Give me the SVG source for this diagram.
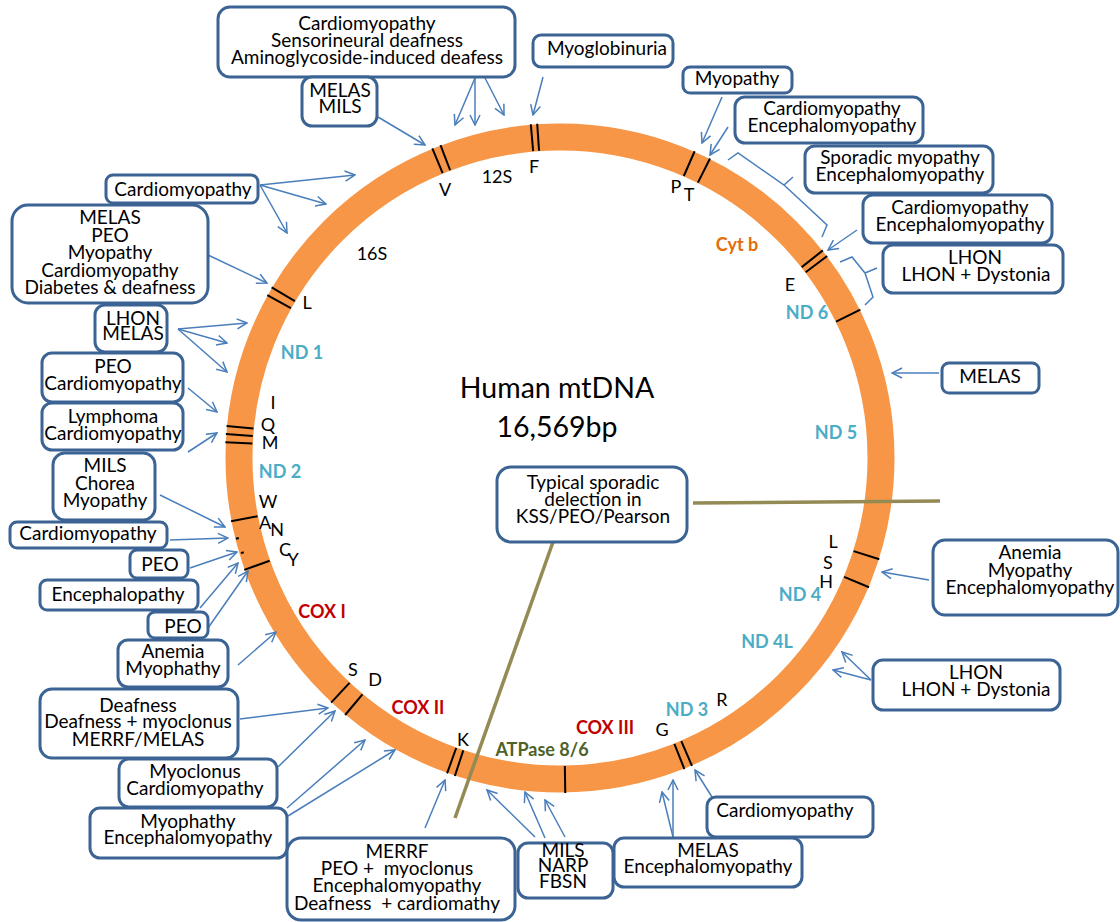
<svg xmlns="http://www.w3.org/2000/svg" width="1120" height="922" viewBox="0 0 1120 922">
<defs>
<style>
.box{fill:#fff;stroke:#3B6394;stroke-width:3}
.t{font-family:Lato,"Liberation Sans",sans-serif;font-size:19px;fill:#000;text-anchor:middle}
.s{font-family:Lato,"Liberation Sans",sans-serif;font-size:18px;fill:#000;text-anchor:middle}
.g{font-family:Lato,"Liberation Sans",sans-serif;font-size:18px;font-weight:bold;text-anchor:middle}
.nd{fill:#4BACC6}.cox{fill:#C00000}.cyt{fill:#E46C0A}.atp{fill:#4F6228}
.big{font-family:Lato,"Liberation Sans",sans-serif;font-size:28.5px;fill:#000;text-anchor:middle}
.a{fill:none;stroke:#4A7EBB;stroke-width:1.5;marker-end:url(#ah)}
.br{fill:none;stroke:#4A7EBB;stroke-width:1.5}
.tk{stroke:#000;stroke-width:2}
.del{stroke:#948A54;stroke-width:3.5;fill:none}
</style>
<marker id="ah" viewBox="0 0 12 12" markerWidth="12" markerHeight="12" refX="11" refY="6" orient="auto" markerUnits="userSpaceOnUse">
<path d="M1,1 L11,6 L1,11" fill="none" stroke="#4A7EBB" stroke-width="1.5"/>
</marker>
</defs>
<rect width="1120" height="922" fill="#fff"/>

<g id="ring">
<circle cx="560" cy="458" r="321" fill="none" stroke="#F79646" stroke-width="27"/>
<g id="ticks">
<line class="tk" x1="560" y1="123" x2="560" y2="150" transform="rotate(-22.4 560 458)"/>
<line class="tk" x1="560" y1="123" x2="560" y2="150" transform="rotate(-20.9 560 458)"/>
<line class="tk" x1="560" y1="123" x2="560" y2="150" transform="rotate(-5 560 458)"/>
<line class="tk" x1="560" y1="123" x2="560" y2="150" transform="rotate(-3.9 560 458)"/>
<line class="tk" x1="560" y1="123" x2="560" y2="150" transform="rotate(23.7 560 458)"/>
<line class="tk" x1="560" y1="123" x2="560" y2="150" transform="rotate(26.6 560 458)"/>
<line class="tk" x1="560" y1="123" x2="560" y2="150" transform="rotate(51.7 560 458)"/>
<line class="tk" x1="560" y1="123" x2="560" y2="150" transform="rotate(52.9 560 458)"/>
<line class="tk" x1="560" y1="123" x2="560" y2="150" transform="rotate(63.7 560 458)"/>
<line class="tk" x1="560" y1="123" x2="560" y2="150" transform="rotate(107.6 560 458)"/>
<line class="tk" x1="560" y1="123" x2="560" y2="150" transform="rotate(112.7 560 458)"/>
<line class="tk" x1="560" y1="123" x2="560" y2="150" transform="rotate(156.8 560 458)"/>
<line class="tk" x1="560" y1="123" x2="560" y2="150" transform="rotate(158.2 560 458)"/>
<line class="tk" x1="560" y1="123" x2="560" y2="150" transform="rotate(179.1 560 458)"/>
<line class="tk" x1="560" y1="123" x2="560" y2="150" transform="rotate(198.3 560 458)"/>
<line class="tk" x1="560" y1="123" x2="560" y2="150" transform="rotate(199.7 560 458)"/>
<line class="tk" x1="560" y1="123" x2="560" y2="150" transform="rotate(219.9 560 458)"/>
<line class="tk" x1="560" y1="123" x2="560" y2="150" transform="rotate(223.1 560 458)"/>
<line class="tk" x1="560" y1="123" x2="560" y2="150" transform="rotate(250.5 560 458)"/>
<line class="tk" x1="560" y1="123" x2="560" y2="150" transform="rotate(259.1 560 458)"/>
<line class="tk" x1="560" y1="123" x2="560" y2="150" transform="rotate(272.7 560 458)"/>
<line class="tk" x1="560" y1="123" x2="560" y2="150" transform="rotate(274.1 560 458)"/>
<line class="tk" x1="560" y1="123" x2="560" y2="150" transform="rotate(275.5 560 458)"/>
<line class="tk" x1="560" y1="123" x2="560" y2="150" transform="rotate(299.1 560 458)"/>
<line class="tk" x1="560" y1="123" x2="560" y2="150" transform="rotate(300.6 560 458)"/>
<line class="tk" x1="560" y1="124" x2="560" y2="127" transform="rotate(256 560 458)"/>
<line class="tk" x1="560" y1="125" x2="560" y2="128" transform="rotate(253.4 560 458)"/>
</g>
<g id="ring-labels">
<text class="s" x="445" y="196">V</text>
<text class="s" x="497" y="183">12S</text>
<text class="s" x="534" y="173">F</text>
<text class="s" x="676" y="193">P</text>
<text class="s" x="689" y="201">T</text>
<text class="s" x="790" y="291">E</text>
<text class="s" x="372" y="260">16S</text>
<text class="s" x="307" y="309">L</text>
<text class="s" x="273" y="409">I</text>
<text class="s" x="268" y="431">Q</text>
<text class="s" x="270" y="449">M</text>
<text class="s" x="268" y="508">W</text>
<text class="s" x="265" y="529">A</text>
<text class="s" x="277" y="536">N</text>
<text class="s" x="285" y="556">C</text>
<text class="s" x="293" y="566">Y</text>
<text class="s" x="353" y="676">S</text>
<text class="s" x="375" y="686">D</text>
<text class="s" x="463" y="746">K</text>
<text class="s" x="662" y="736">G</text>
<text class="s" x="722" y="706">R</text>
<text class="s" x="833" y="548">L</text>
<text class="s" x="828" y="569">S</text>
<text class="s" x="826" y="588">H</text>
<text class="g cyt" x="737" y="251">Cyt b</text>
<text class="g nd" x="807" y="319">ND 6</text>
<text class="g nd" x="836" y="439">ND 5</text>
<text class="g nd" x="800" y="601">ND 4</text>
<text class="g nd" x="767" y="648">ND 4L</text>
<text class="g nd" x="687" y="716">ND 3</text>
<text class="g cox" x="605" y="734">COX III</text>
<text class="g atp" x="542" y="756">ATPase 8/6</text>
<text class="g cox" x="418" y="714">COX II</text>
<text class="g cox" x="322" y="618">COX I</text>
<text class="g nd" x="280" y="478">ND 2</text>
<text class="g nd" x="302" y="359">ND 1</text>
<text class="big" x="557" y="398">Human mtDNA</text>
<text class="big" x="557" y="437">16,569bp</text>
</g>
</g>

<g id="connectors">
<line class="del" x1="455" y1="818" x2="553" y2="542"/>
<line class="del" x1="693" y1="503" x2="940" y2="501"/>
<path class="a" d="M475,78 L455,125"/>
<path class="a" d="M475,78 L475,125"/>
<path class="a" d="M485,78 L504,115"/>
<path class="a" d="M378,117 L425,145"/>
<path class="a" d="M543,77 L533,115"/>
<path class="a" d="M722,97 L702,143"/>
<path class="a" d="M728,127 L710,155"/>
<path class="br" d="M728,160 L738,153 L784,185 L793,177 M784,185 L827,225 L822,237"/>
<path class="a" d="M857,230 L828,250"/>
<path class="br" d="M840,262 L852,257 L865,273 L877,268 M865,273 L873,297 L865,305"/>
<path class="a" d="M939,373 L892,373"/>
<path class="a" d="M929,580 L882,572"/>
<path class="a" d="M871,680 L842,652"/>
<path class="a" d="M871,680 L833,670"/>
<path class="a" d="M712,797 L695,770"/>
<path class="a" d="M673,837 L662,792"/>
<path class="a" d="M673,837 L673,780"/>
<path class="a" d="M535,837 L487,790"/>
<path class="a" d="M545,838 L525,792"/>
<path class="a" d="M565,837 L545,800"/>
<path class="a" d="M425,828 L445,780"/>
<path class="a" d="M287,808 L365,740"/>
<path class="a" d="M288,816 L395,750"/>
<path class="a" d="M278,767 L335,711"/>
<path class="a" d="M240,719 L328,708"/>
<path class="a" d="M238,665 L276,632"/>
<path class="a" d="M208,628 L248,571"/>
<path class="a" d="M200,608 L238,563"/>
<path class="a" d="M190,568 L237,552"/>
<path class="a" d="M170,540 L228,538"/>
<path class="a" d="M160,495 L225,527"/>
<path class="a" d="M188,452 L217,433"/>
<path class="a" d="M188,388 L217,412"/>
<path class="a" d="M178,329 L247,323"/>
<path class="a" d="M178,329 L227,343"/>
<path class="a" d="M178,329 L227,372"/>
<path class="a" d="M208,255 L267,283"/>
<path class="a" d="M260,185 L355,175"/>
<path class="a" d="M260,185 L326,204"/>
<path class="a" d="M260,185 L287,233"/>
</g>

<g id="n1"><rect class="box" x="218" y="7" width="297" height="70" rx="12"/>
<text class="t" x="367" y="30">Cardiomyopathy</text><text class="t" x="367" y="47">Sensorineural deafness</text><text class="t" x="367" y="64">Aminoglycoside-induced deafess</text></g>
<g id="n2"><rect class="box" x="302" y="77" width="75" height="49" rx="10"/>
<text class="t" x="340" y="97">MELAS</text><text class="t" x="340" y="113">MILS</text></g>
<g id="n3"><rect class="box" x="533" y="35" width="140" height="32" rx="8"/>
<text class="t" x="607" y="55">Myoglobinuria</text></g>
<g id="n4"><rect class="box" x="683" y="67" width="109" height="26" rx="7"/>
<text class="t" x="737" y="85">Myopathy</text></g>
<g id="n5"><rect class="box" x="735" y="97" width="188" height="46" rx="10"/>
<text class="t" x="832" y="115">Cardiomyopathy</text><text class="t" x="832" y="132">Encephalomyopathy</text></g>
<g id="n6"><rect class="box" x="805" y="146" width="188" height="47" rx="10"/>
<text class="t" x="900" y="164">Sporadic myopathy</text><text class="t" x="900" y="181">Encephalomyopathy</text></g>
<g id="n7"><rect class="box" x="863" y="195" width="189" height="48" rx="10"/>
<text class="t" x="960" y="214">Cardiomyopathy</text><text class="t" x="960" y="231">Encephalomyopathy</text></g>
<g id="n8"><rect class="box" x="883" y="245" width="180" height="48" rx="10"/>
<text class="t" x="975" y="264">LHON</text><text class="t" x="976" y="281">LHON + Dystonia</text></g>
<g id="n9"><rect class="box" x="942" y="363" width="97" height="30" rx="7"/>
<text class="t" x="990" y="383">MELAS</text></g>
<g id="n10"><rect class="box" x="933" y="540" width="185" height="75" rx="12"/>
<text class="t" x="1030" y="559">Anemia</text><text class="t" x="1030" y="577">Myopathy</text><text class="t" x="1030" y="594">Encephalomyopathy</text></g>
<g id="n11"><rect class="box" x="873" y="660" width="187" height="50" rx="10"/>
<text class="t" x="976" y="679">LHON</text><text class="t" x="976" y="696">LHON + Dystonia</text></g>
<g id="n12"><rect class="box" x="707" y="797" width="166" height="40" rx="9"/>
<text class="t" x="785" y="817">Cardiomyopathy</text></g>
<g id="n13"><rect class="box" x="614" y="838" width="188" height="49" rx="10"/>
<text class="t" x="708" y="857">MELAS</text><text class="t" x="708" y="873">Encephalomyopathy</text></g>
<g id="n14"><rect class="box" x="518" y="843" width="95" height="55" rx="10"/>
<text class="t" x="563" y="857">MILS</text><text class="t" x="563" y="872">NARP</text><text class="t" x="563" y="888">FBSN</text></g>
<g id="n15"><rect class="box" x="287" y="838" width="228" height="82" rx="14"/>
<text class="t" x="397" y="858">MERRF</text><text class="t" x="397" y="875" xml:space="preserve">PEO +  myoclonus</text><text class="t" x="397" y="892">Encephalomyopathy</text><text class="t" x="397" y="910" xml:space="preserve">Deafness  + cardiomathy</text></g>
<g id="n16"><rect class="box" x="90" y="808" width="197" height="50" rx="10"/>
<text class="t" x="188" y="828">Myophathy</text><text class="t" x="188" y="844">Encephalomyopathy</text></g>
<g id="n17"><rect class="box" x="119" y="759" width="158" height="48" rx="10"/>
<text class="t" x="195" y="778">Myoclonus</text><text class="t" x="195" y="795">Cardiomyopathy</text></g>
<g id="n18"><rect class="box" x="40" y="689" width="198" height="69" rx="12"/>
<text class="t" x="138" y="712">Deafness</text><text class="t" x="138" y="728">Deafness + myoclonus</text><text class="t" x="138" y="746">MERRF/MELAS</text></g>
<g id="n19"><rect class="box" x="118" y="640" width="110" height="47" rx="10"/>
<text class="t" x="173" y="658">Anemia</text><text class="t" x="173" y="675">Myophathy</text></g>
<g id="n20"><rect class="box" x="148" y="612" width="60" height="26" rx="7"/>
<text class="t" x="183" y="633">PEO</text></g>
<g id="n21"><rect class="box" x="40" y="580" width="158" height="30" rx="7"/>
<text class="t" x="118" y="601">Encephalopathy</text></g>
<g id="n22"><rect class="box" x="130" y="550" width="58" height="28" rx="7"/>
<text class="t" x="160" y="571">PEO</text></g>
<g id="n23"><rect class="box" x="10" y="522" width="157" height="26" rx="7"/>
<text class="t" x="88" y="540">Cardiomyopathy</text></g>
<g id="n24"><rect class="box" x="53" y="453" width="102" height="67" rx="12"/>
<text class="t" x="105" y="472">MILS</text><text class="t" x="105" y="490">Chorea</text><text class="t" x="105" y="507">Myopathy</text></g>
<g id="n25"><rect class="box" x="42" y="403" width="141" height="47" rx="10"/>
<text class="t" x="113" y="423">Lymphoma</text><text class="t" x="113" y="440">Cardiomyopathy</text></g>
<g id="n26"><rect class="box" x="42" y="353" width="141" height="49" rx="10"/>
<text class="t" x="113" y="373">PEO</text><text class="t" x="113" y="390">Cardiomyopathy</text></g>
<g id="n27"><rect class="box" x="95" y="305" width="72" height="47" rx="10"/>
<text class="t" x="133" y="325">LHON</text><text class="t" x="133" y="340">MELAS</text></g>
<g id="n28"><rect class="box" x="12" y="205" width="196" height="98" rx="16"/>
<text class="t" x="110" y="224">MELAS</text><text class="t" x="110" y="242">PEO</text><text class="t" x="110" y="259">Myopathy</text><text class="t" x="110" y="277">Cardiomyopathy</text><text class="t" x="110" y="294">Diabetes &amp; deafness</text></g>
<g id="n29"><rect class="box" x="106" y="175" width="152" height="28" rx="7"/>
<text class="t" x="183" y="196">Cardiomyopathy</text></g>
<g id="n30"><rect class="box" x="497" y="467" width="190" height="75" rx="14"/>
<text class="t" x="593" y="489">Typical sporadic</text><text class="t" x="593" y="506">delection in</text><text class="t" x="593" y="523">KSS/PEO/Pearson</text></g>
</svg>
